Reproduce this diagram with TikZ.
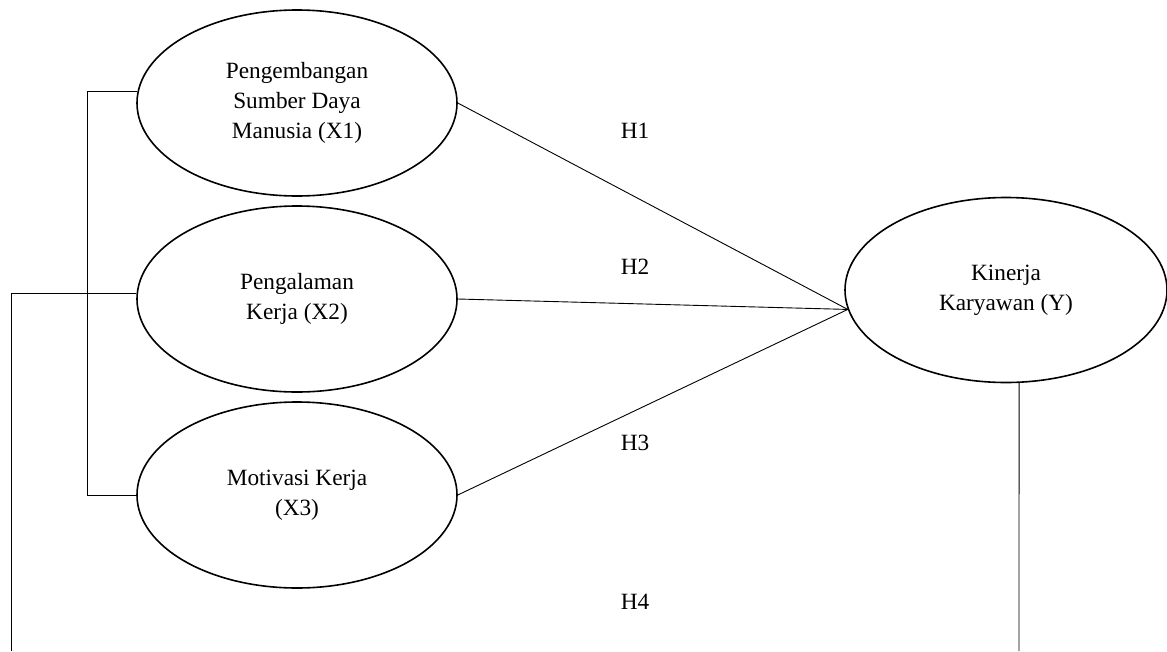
\documentclass[tikz,border=0pt]{standalone}
\usepackage{fontspec}
\setmainfont{Liberation Serif}
\usetikzlibrary{shapes.geometric,calc}

\begin{document}
\begin{tikzpicture}[
    x=1pt, y=-1pt,
    every node/.style={font=\fontsize{23.3}{30}\selectfont},
    var/.style={ellipse, draw, line width=1.6pt, minimum width=320pt,
        minimum height=186pt, align=center, inner sep=0pt},
    link/.style={line width=0.9pt},
    hyp/.style={anchor=center},
    ]
    \useasboundingbox (0,0) rectangle (1167,651);
    % Independent variables
    \node[var] (x1) at (297,103) {Pengembangan\\Sumber Daya\\Manusia (X1)};
    \node[var] (x2) at (297,299) {Pengalaman\\Kerja (X2)};
    \node[var] (x3) at (297,495) {Motivasi Kerja\\(X3)};
    % Dependent variable
    \node[var, minimum width=322pt, minimum height=185pt] (y) at (1006,290) {Kinerja\\Karyawan (Y)};
    % Paths
    \draw[link] (x1.east) -- (y.187);
    \draw[link] (x2.east) -- (y.187);
    \draw[link] (x3.east) -- (y.187);
    % Bracket and H4 path
    \coordinate (bx) at (87,0);
    \coordinate (lx) at (11,651);
    \coordinate (ybot) at (1019,651);
    \draw[link] (x1.176) -- (x1.176 -| bx) |- (x3.west);
    \draw[link] (x2.178) -| (lx);
    \draw[link] (y.-82) -- (ybot);
    % Hypothesis labels
    \node[hyp] (h1) at (635,131) {H1};
    \node[hyp] (h2) at (635,267) {H2};
    \node[hyp] (h3) at (635,443) {H3};
    \node[hyp] (h4) at (635,602) {H4};
\end{tikzpicture}
\end{document}
